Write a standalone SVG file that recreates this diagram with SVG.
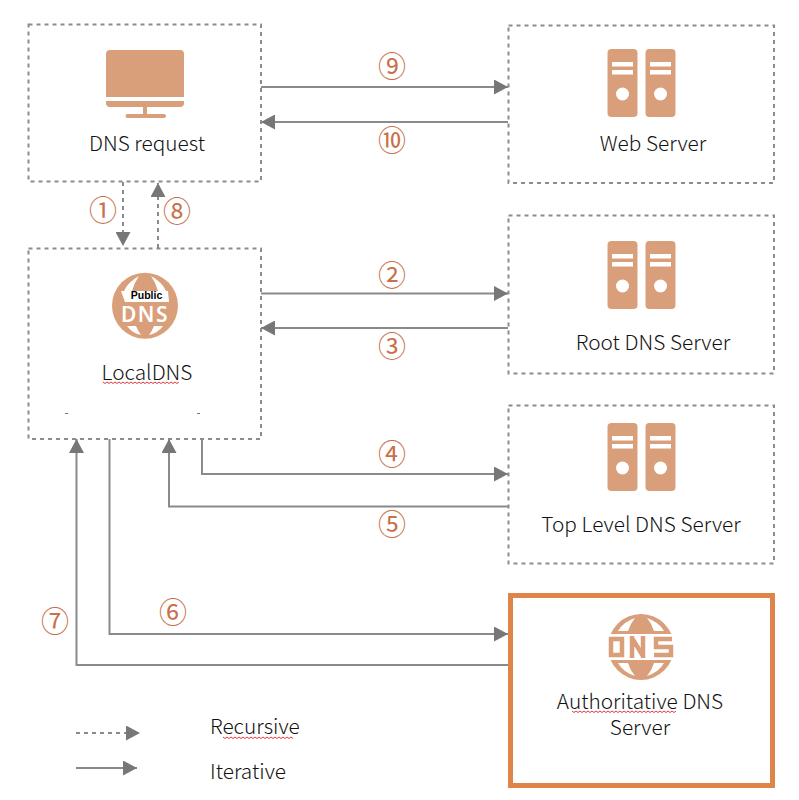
<svg xmlns="http://www.w3.org/2000/svg" width="799" height="800" viewBox="0 0 799 800">
<style>
.box{fill:#fff;stroke:#8c8c8c;stroke-width:2;stroke-dasharray:4 4}
.auth{fill:#fff;stroke:#e0854a;stroke-width:5}
.ic{fill:#d99f7a}
.w{fill:#fff}
.lab{font-family:"Noto Sans CJK SC","Noto Sans",sans-serif;font-weight:300;font-size:20.800px;fill:#111;text-anchor:middle}
.num{font-family:"Noto Sans CJK SC","Noto Sans",sans-serif;font-size:28px;fill:#c9704a;text-anchor:middle}
.c{fill:none;stroke:#8a8a8a;stroke-width:2}
.d{stroke-dasharray:4 4}
.sq{fill:none;stroke:#e0393e;stroke-width:1}
</style>
<defs>
<marker id="a" markerUnits="userSpaceOnUse" markerWidth="14" markerHeight="15" refX="14" refY="7.500" orient="auto"><path d="M0 0L14 7.500L0 15Z" fill="#777"/></marker>
<g id="srv">
<rect x="607.500" y="49" width="30" height="68" rx="4" class="ic"/>
<rect x="612" y="62" width="21" height="4.500" class="w"/><rect x="612" y="70" width="21" height="4.500" class="w"/><circle cx="622.500" cy="94" r="6.500" class="w"/>
<rect x="645.500" y="49" width="30" height="68" rx="4" class="ic"/>
<rect x="650" y="62" width="21" height="4.500" class="w"/><rect x="650" y="70" width="21" height="4.500" class="w"/><circle cx="660.500" cy="94" r="6.500" class="w"/>
</g>
</defs>
<rect width="799" height="800" fill="#fff"/>
<g id="n-request">
<rect class="box" x="28.500" y="24.500" width="232.500" height="157"/>
<path class="ic" d="M110 50H180a4 4 0 0 1 4 4V97H106V54a4 4 0 0 1 4-4Z"/>
<path class="ic" d="M106 101H184V103a4 4 0 0 1-4 4H110a4 4 0 0 1-4-4Z"/>
<rect class="ic" x="143" y="107" width="4" height="7"/>
<rect class="ic" x="125.500" y="114" width="40.500" height="4" rx="2"/>
<text class="lab" x="147" y="151">DNS request</text>
</g>
<g id="n-web">
<rect class="box" x="508.500" y="25.500" width="265.500" height="157.500"/>
<use href="#srv"/>
<text class="lab" x="653" y="151">Web Server</text>
</g>
<g id="n-root">
<rect class="box" x="508.500" y="215.500" width="265.500" height="158"/>
<use href="#srv" y="192"/>
<text class="lab" x="653" y="350">Root DNS Server</text>
</g>
<g id="n-tld">
<rect class="box" x="508.500" y="405.500" width="265.500" height="158"/>
<use href="#srv" y="374"/>
<text class="lab" x="641" y="532">Top Level DNS Server</text>
</g>
<g id="n-local">
<rect class="box" x="28.500" y="248.500" width="232.500" height="190.500"/>
<circle class="ic" cx="145" cy="305.700" r="33"/>
<path class="w" d="M124 291Q128 282 139 276Q134 283 132 291ZM151 276Q162 282 166 291H158Q156 283 151 276Z"/>
<path class="w" d="M121 291L168 291L169 302H125Z"/>
<text x="146.500" y="299" font-family="Liberation Sans,sans-serif" font-size="10.500" font-weight="700" fill="#000" text-anchor="middle">Public</text>
<text x="145" y="322" font-family="Noto Sans,sans-serif" font-size="21" font-weight="600" fill="#fff" text-anchor="middle" letter-spacing="1.500">DNS</text>
<path class="w" d="M127 326H136Q138 331 141 335Q132 333 127 326ZM154 326H163Q158 333 149 335Q152 331 154 326Z"/>
<rect x="65" y="413" width="3" height="1" fill="#777"/><rect x="197" y="413" width="3" height="1" fill="#777"/>
<text class="lab" x="147" y="380">LocalDNS</text>
<path class="sq" d="M103 382l2 1.500l2-1.500l2 1.500l2-1.500l2 1.500l2-1.500l2 1.500l2-1.500l2 1.500l2-1.500l2 1.500l2-1.500l2 1.500l2-1.500l2 1.500l2-1.500l2 1.500l2-1.500l2 1.500l2-1.500l2 1.500l2-1.500l2 1.500l2-1.500l2 1.500l2-1.500l2 1.500l2-1.500l2 1.500l2-1.500l2 1.500l2-1.500l2 1.500l2-1.500l2 1.500l2-1.500l2 1.500l2-1.500"/>
</g>
<g id="n-auth">
<rect class="auth" x="510.500" y="595.500" width="262" height="190"/>
<circle class="ic" cx="641" cy="647" r="33"/>
<path class="w" d="M618 631Q623 622 635 618Q630 624 628 631ZM647 618Q659 622 664 631H654Q652 624 647 618Z"/>
<path class="w" d="M618 663H628Q630 670 635 676Q623 672 618 663ZM654 663H664Q659 672 647 676Q652 670 654 663Z"/>
<rect class="w" x="606" y="634" width="70" height="26"/>
<path fill="none" stroke="#d99f7a" stroke-width="4.500" d="M611 639H622V655H611ZM632 658V636M632 638L643 656M643 658V636M672 639H656V647H671V655H654"/>
<text class="lab" x="640" y="709">Authoritative DNS</text>
<text class="lab" x="640" y="735">Server</text>
<path class="sq" d="M572 711l2 1.500l2-1.500l2 1.500l2-1.500l2 1.500l2-1.500l2 1.500l2-1.500l2 1.500l2-1.500l2 1.500l2-1.500l2 1.500l2-1.500l2 1.500l2-1.500l2 1.500l2-1.500l2 1.500l2-1.500l2 1.500l2-1.500l2 1.500l2-1.500l2 1.500l2-1.500l2 1.500l2-1.500l2 1.500l2-1.500l2 1.500l2-1.500l2 1.500l2-1.500l2 1.500l2-1.500l2 1.500l2-1.500l2 1.500l2-1.500l2 1.500l2-1.500l2 1.500l2-1.500l2 1.500l2-1.500l2 1.500l2-1.500l2 1.500l2-1.500l2 1.500l2-1.500"/>
</g>
<g id="connectors">
<path class="c" marker-end="url(#a)" d="M261 87H508"/>
<path class="c" marker-end="url(#a)" d="M508 122H261"/>
<path class="c d" marker-end="url(#a)" d="M123 182V246"/>
<path class="c d" marker-end="url(#a)" d="M158 248V183"/>
<path class="c" marker-end="url(#a)" d="M261 293.500H508"/>
<path class="c" marker-end="url(#a)" d="M508 328H261"/>
<path class="c" marker-end="url(#a)" d="M202 439V474H508"/>
<path class="c" marker-end="url(#a)" d="M508 506.500H169V439"/>
<path class="c" marker-end="url(#a)" d="M109.500 439V634H508"/>
<path class="c" marker-end="url(#a)" d="M508 665H76.500V439"/>
<path class="c d" marker-end="url(#a)" d="M76 733H140"/>
<path class="c" marker-end="url(#a)" d="M76 768H137"/>
</g>
<g id="labels">
<text class="num" x="392" y="77">⑨</text>
<text class="num" x="392" y="151">⑩</text>
<text class="num" x="103" y="221">①</text>
<text class="num" x="177" y="222">⑧</text>
<text class="num" x="392" y="286">②</text>
<text class="num" x="392" y="357">③</text>
<text class="num" x="392" y="465">④</text>
<text class="num" x="392" y="535">⑤</text>
<text class="num" x="173" y="623">⑥</text>
<text class="num" x="55" y="632">⑦</text>
<text class="lab" x="210" y="734" style="text-anchor:start">Recursive</text>
<path class="sq" d="M223 737l2 1.500l2-1.500l2 1.500l2-1.500l2 1.500l2-1.500l2 1.500l2-1.500l2 1.500l2-1.500l2 1.500l2-1.500l2 1.500l2-1.500l2 1.500l2-1.500l2 1.500l2-1.500l2 1.500l2-1.500l2 1.500l2-1.500l2 1.500l2-1.500l2 1.500l2-1.500l2 1.500l2-1.500l2 1.500l2-1.500l2 1.500l2-1.500l2 1.500l2-1.500l2 1.500"/>
<text class="lab" x="210" y="779" style="text-anchor:start">Iterative</text>
</g>
</svg>
